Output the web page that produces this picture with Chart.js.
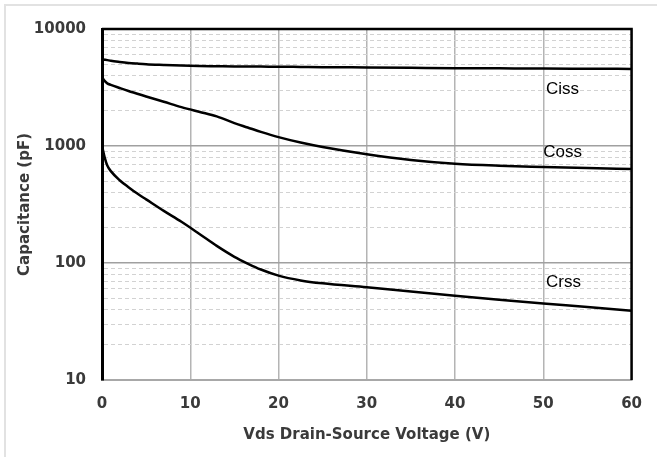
<!DOCTYPE html>
<html>
<head>
<meta charset="utf-8">
<script src="https://cdn.jsdelivr.net/npm/chart.js@4/dist/chart.umd.min.js"></script>
<style>
  html, body { margin: 0; padding: 0; background: #fff; }
  #wrap { position: relative; width: 657px; height: 457px; }
  #frame { position: absolute; left: 4px; top: 4px; right: 0; bottom: 0;
           border-top: 2px solid #e2e2e2; border-left: 2px solid #e2e2e2; pointer-events: none; }
</style>
</head>
<body>
<div id="wrap">
  <canvas id="capChart" width="657" height="457"></canvas>
  <div id="frame"></div>
</div>
<script>
// Vds (V) sample points
var vds = [0, 0.3, 0.6, 1, 2, 3, 4, 5, 7, 9, 11, 13, 15, 16.5, 18, 20, 22.5, 25, 30, 35, 40, 45, 50, 55, 60];

// capacitance in pF
var ciss = [5520, 5470, 5420, 5350, 5230, 5130, 5060, 5000, 4930, 4870, 4830, 4810, 4790, 4780, 4770, 4760, 4740, 4720, 4690, 4660, 4630, 4610, 4590, 4575, 4560];
var coss = [3870, 3600, 3430, 3330, 3130, 2950, 2800, 2650, 2390, 2150, 1960, 1790, 1570, 1440, 1320, 1190, 1070, 980, 850, 760, 705, 678, 662, 648, 636];
var crss = [1000, 800, 680, 610, 510, 445, 392, 350, 279, 225, 178, 140, 113, 99, 88, 78, 71, 67, 62, 57, 52.5, 48.5, 45, 42, 39];

// axis ticks
var xTicks = [0, 10, 20, 30, 40, 50, 60];
var yDecades = [10, 100, 1000, 10000];

// curve names and where they sit (Vds, pF)
var curveNames = ['Ciss', 'Coss', 'Crss'];
var nameAt = [[50.3, 3070], [50.0, 890], [50.3, 68]];

function toPoints(ys) {
  return vds.map(function (v, i) { return { x: v, y: ys[i] }; });
}

// y ticks: every 1..9 step inside each decade
var yTicks = [];
for (var d = 0; d < yDecades.length - 1; d++) {
  for (var m = 1; m < 10; m++) yTicks.push(yDecades[d] * m);
}
yTicks.push(yDecades[yDecades.length - 1]);

function isDecade(v) {
  return yDecades.indexOf(v) !== -1;
}

var tickFont = { family: 'DejaVu Sans', size: 15, weight: 'bold' };
var tickColor = '#3a3a3a';

var curveLabels = {
  id: 'curveLabels',
  afterDatasetsDraw: function (chart) {
    var c = chart.ctx, xs = chart.scales.x, ys = chart.scales.y, a = chart.chartArea;
    c.save();
    // plot frame: top and right edges
    c.strokeStyle = '#000';
    c.lineWidth = 2.5;
    c.beginPath();
    c.moveTo(a.left, a.top);
    c.lineTo(a.right, a.top);
    c.lineTo(a.right, a.bottom);
    c.stroke();
    c.font = '17px "Liberation Sans", Arial, sans-serif';
    c.fillStyle = '#000';
    c.textAlign = 'left';
    c.textBaseline = 'middle';
    curveNames.forEach(function (n, i) {
      c.fillText(n, xs.getPixelForValue(nameAt[i][0]), ys.getPixelForValue(nameAt[i][1]));
    });
    c.restore();
  }
};

function series(label, ys) {
  return {
    label: label,
    data: toPoints(ys),
    borderColor: '#000',
    borderWidth: 2.5,
    pointRadius: 0,
    fill: false,
    cubicInterpolationMode: 'monotone'
  };
}

var ctx = document.getElementById('capChart').getContext('2d');
var capChart = new Chart(ctx, {
  type: 'line',
  data: {
    datasets: [series('Ciss', ciss), series('Coss', coss), series('Crss', crss)]
  },
  options: {
    responsive: false,
    animation: false,
    layout: { padding: { top: 29, right: 22, left: 0, bottom: 0 } },
    plugins: {
      legend: { display: false },
      tooltip: { enabled: false }
    },
    scales: {
      x: {
        type: 'linear',
        min: 0,
        max: 60,
        afterBuildTicks: function (s) {
          s.ticks = xTicks.map(function (v) { return { value: v }; });
        },
        afterFit: function (s) { s.height = 77; },
        ticks: { font: tickFont, color: tickColor, padding: 15, maxRotation: 0 },
        grid: { color: '#b4b4b4', lineWidth: 1.5, drawTicks: false },
        border: { color: '#a8a8a8', width: 2 },
        title: {
          display: true,
          text: 'Vds Drain-Source Voltage (V)',
          font: tickFont,
          color: tickColor,
          padding: { top: 0, bottom: 13 }
        }
      },
      y: {
        type: 'logarithmic',
        min: 10,
        max: 10000,
        afterBuildTicks: function (s) {
          s.ticks = yTicks.map(function (v) { return { value: v, major: isDecade(v) }; });
        },
        afterFit: function (s) { s.width = 102; },
        ticks: {
          font: tickFont,
          color: tickColor,
          padding: 16,
          autoSkip: false,
          callback: function (v) { return isDecade(v) ? String(v) : ''; }
        },
        grid: {
          drawTicks: false,
          color: function (c) { return c.tick && isDecade(c.tick.value) ? '#a0a0a0' : '#d2d2d2'; },
          lineWidth: function (c) { return c.tick && isDecade(c.tick.value) ? 1.5 : 1; }
        },
        border: {
          color: '#000',
          width: 3,
          dash: function (c) { return c.tick && !isDecade(c.tick.value) ? [4, 3] : []; }
        },
        title: {
          display: true,
          text: 'Capacitance (pF)',
          font: tickFont,
          color: tickColor,
          padding: { top: 16, bottom: 0 }
        }
      }
    }
  },
  plugins: [curveLabels]
});
</script>
</body>
</html>
